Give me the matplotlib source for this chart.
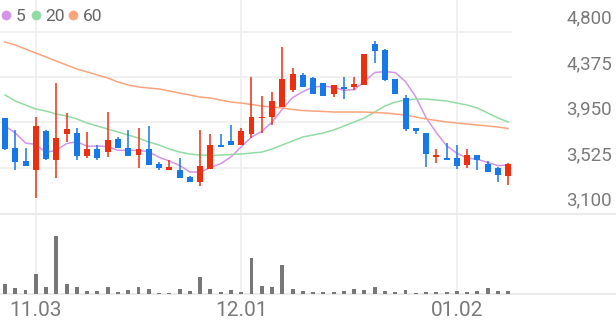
import numpy as np
import matplotlib
matplotlib.use("Agg")
import matplotlib.pyplot as plt
from matplotlib.lines import Line2D
from matplotlib import transforms

# daily candles, oldest first (KRW)
opens = [3990, 3710, 3590, 3505, 3870, 3600, 3845, 3850, 3635, 3700,
         3675, 3795, 3710, 3645, 3700, 3560, 3505, 3505, 3440, 3395,
         3515, 3740, 3775, 3740, 3845, 3990, 4000, 4095, 4255, 4395,
         4365, 4320, 4215, 4280, 4280, 4300, 4685, 4625, 4355, 4180,
         3900, 3850, 3630, 3620, 3620, 3555, 3645, 3560, 3525, 3450]
highs = [3995, 3880, 3710, 4000, 3880, 4320, 4040, 3900, 3860, 3740,
         4050, 3815, 3880, 3900, 3915, 3580, 3600, 3620, 3450, 3880,
         3845, 3845, 3925, 3900, 4375, 4195, 4235, 4655, 4460, 4410,
         4375, 4320, 4300, 4375, 4375, 4590, 4710, 4635, 4355, 4205,
         3900, 3850, 3700, 3760, 3740, 3700, 3645, 3590, 3535, 3570]
lows = [3695, 3505, 3545, 3245, 3600, 3430, 3770, 3600, 3620, 3600,
        3630, 3710, 3635, 3525, 3555, 3505, 3505, 3430, 3395, 3355,
        3515, 3720, 3740, 3740, 3805, 3850, 3925, 4095, 4235, 4280,
        4215, 4195, 4190, 4170, 4255, 4300, 4505, 4340, 4215, 3870,
        3845, 3535, 3570, 3600, 3515, 3525, 3505, 3490, 3395, 3365]
closes = [3700, 3580, 3545, 3915, 3610, 3805, 3890, 3635, 3700, 3620,
          3785, 3710, 3635, 3700, 3555, 3525, 3535, 3430, 3395, 3545,
          3740, 3720, 3740, 3870, 4000, 4000, 4150, 4355, 4405, 4280,
          4215, 4195, 4300, 4265, 4310, 4590, 4620, 4345, 4215, 3890,
          3870, 3655, 3645, 3600, 3545, 3645, 3600, 3490, 3460, 3560]
volumes = [103, 60, 37, 197, 73, 580, 103, 73, 30, 30,
           67, 23, 40, 73, 50, 13, 13, 53, 33, 170,
           50, 20, 37, 20, 357, 80, 67, 287, 55, 33,
           23, 23, 17, 33, 50, 43, 67, 27, 23, 43,
           13, 23, 17, 23, 27, 17, 33, 57, 27, 27]

# moving averages as drawn (they reach back before the first candle)
ma5_head = [3917, 3852, 3758, 3745]
ma20 = [4207, 4151, 4113, 4076, 4057, 4029, 4011, 3983, 3945, 3917,
        3889, 3861, 3833, 3805, 3768, 3740, 3702, 3674, 3656, 3646,
        3642, 3646, 3651, 3656, 3665, 3674, 3702, 3740, 3777, 3815,
        3833, 3852, 3880, 3917, 3955, 3992, 4048, 4104, 4141, 4160,
        4169, 4169, 4160, 4151, 4132, 4113, 4085, 4039, 3992, 3955]
ma60 = [4702, 4674, 4636, 4599, 4562, 4524, 4487, 4450, 4422, 4394,
        4366, 4328, 4300, 4282, 4272, 4263, 4244, 4225, 4207, 4188,
        4179, 4160, 4141, 4132, 4118, 4104, 4095, 4085, 4071, 4062,
        4057, 4053, 4048, 4048, 4048, 4048, 4043, 4039, 4029, 4020,
        4001, 3983, 3969, 3955, 3945, 3936, 3927, 3917, 3908, 3894]

price_ticks = [3100, 3525, 3950, 4375, 4800]
date_ticks = [3, 23, 44]
date_labels = ["11.03", "12.01", "01.02"]
legend_labels = ["5", "20", "60"]

RED = "#eb3012"
BLUE = "#1778e8"
C_MA = ["#d494ea", "#93dba4", "#f8a47f"]
GRID = "#eeeeee"
TXT = "#7a7a7a"

plt.rcParams["font.family"] = ["Roboto", "DejaVu Sans"]

W, H = 616, 321
fig = plt.figure(figsize=(W / 100, H / 100), dpi=100)

n = len(closes)
x = np.arange(n)
o, h, l, c = map(np.array, (opens, highs, lows, closes))
ma5 = np.array(ma5_head + [np.mean(c[i - 4:i + 1]) for i in range(4, n)])

plot_w = 512
px_per_unit = 45.5 / 425
ax = fig.add_axes([0, (H - 213.5) / H, plot_w / W, 213.5 / H])
axv = fig.add_axes([0, (H - 294) / H, plot_w / W, 80.5 / H])

xlim = (-5 / 10.27, (plot_w - 5) / 10.27)
for a in (ax, axv):
    a.set_xlim(*xlim)
    a.axis("off")
ax.set_ylim(3100, 3100 + 213.5 / px_per_unit)
axv.set_ylim(0, max(volumes) * 80.5 / 58)

# grid
for p in price_ticks[1:]:
    ax.axhline(p, color=GRID, lw=1.2, zorder=0)
for t in date_ticks:
    fig.add_artist(Line2D([(5 + 10.27 * t) / W] * 2, [(H - 294) / H, 1],
                          color=GRID, lw=1.2, zorder=0))
for yy in (213.5, 294):
    fig.add_artist(Line2D([0, 1], [(H - yy) / H] * 2, color="#e8e8e8", lw=1.2, zorder=0))

# moving averages
for vals, col in zip((ma5, ma20, ma60), C_MA):
    ax.plot(x, vals, color=col, lw=1.1, zorder=1)

# candles
up = c >= o
cols = np.where(up, RED, BLUE)
ax.vlines(x, l, h, colors=cols, lw=1.1, zorder=2)
body_lo = np.minimum(o, c)
body_h = np.maximum(np.abs(c - o), 1.2 / px_per_unit)
ax.bar(x, body_h, bottom=body_lo, width=0.58, color=cols, zorder=3)

# volume
axv.bar(x, volumes, width=0.38, color="#777777")

# price labels on the right
trans = transforms.blended_transform_factory(fig.transFigure, ax.transData)
for p in price_ticks:
    t = transforms.offset_copy(trans, fig=fig, x=0, y=8, units="dots")
    fig.text(612 / W, p, f"{p:,}", transform=t, ha="right", va="baseline",
             fontsize=13.5, color=TXT)

# date labels
for t, lab in zip(date_ticks, date_labels):
    fig.text((5 + 10.27 * t) / W, (H - 316.5) / H, lab, ha="center", va="baseline",
             fontsize=15, color=TXT)

# legend
lx = [6, 36, 73]
for xx, lab, col in zip(lx, legend_labels, C_MA):
    fig.add_artist(Line2D([xx / W], [(H - 15) / H], marker="o", markersize=7,
                          color=col, markeredgewidth=0))
    fig.text((xx + 9.5) / W, (H - 21) / H, lab, ha="left", va="baseline",
             fontsize=12.5, color="#666666")

fig.savefig("out.png", dpi=100)
